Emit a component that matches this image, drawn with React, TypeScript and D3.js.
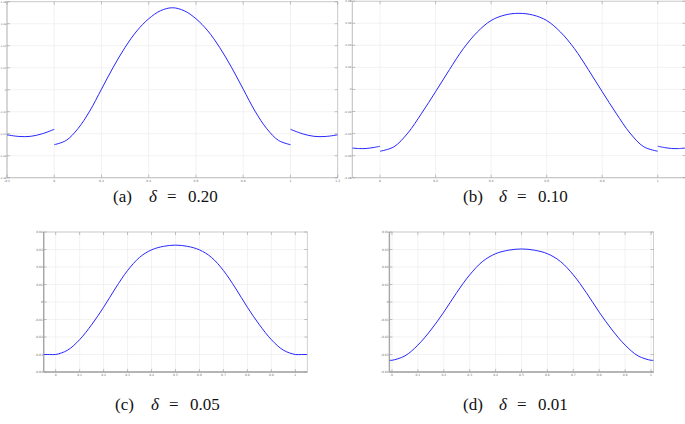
import React from "react";
import * as d3 from "d3";

// ---------- data ----------
const MAIN_X = [0, 0.05, 0.1, 0.15, 0.2, 0.25, 0.3, 0.35, 0.4, 0.45, 0.5, 0.55, 0.6, 0.65, 0.7, 0.75, 0.8, 0.85, 0.9, 0.95, 1];

// (a) delta = 0.20
const A_MAIN_Y = [-0.05, -0.0462, -0.0355, -0.0195, 0.0005, 0.0205, 0.0385, 0.0535, 0.0645, 0.0718, 0.0745, 0.0718, 0.0645, 0.0535, 0.0385, 0.0205, 0.0005, -0.0195, -0.0355, -0.0462, -0.05];
const A_LEFT_X = [-0.2, -0.15, -0.1, -0.05, 0];
const A_LEFT_Y = [-0.041, -0.0425, -0.0424, -0.04, -0.036];
const A_RIGHT_X = [1, 1.05, 1.1, 1.15, 1.2];
const A_RIGHT_Y = [-0.036, -0.04, -0.0424, -0.0425, -0.041];

// (b) delta = 0.10
const B_MAIN_Y = [-0.056, -0.052, -0.0395, -0.0215, -0.002, 0.018, 0.037, 0.052, 0.0625, 0.0675, 0.069, 0.0675, 0.0625, 0.052, 0.037, 0.018, -0.002, -0.0215, -0.0395, -0.052, -0.056];
const B_LEFT_X = [-0.1, -0.075, -0.05, -0.025, 0];
const B_LEFT_Y = [-0.0531, -0.0536, -0.0535, -0.0527, -0.0515];
const B_RIGHT_X = [1, 1.025, 1.05, 1.075, 1.1];
const B_RIGHT_Y = [-0.0515, -0.0527, -0.0535, -0.0536, -0.0531];

// (c) delta = 0.05
const C_X = [-0.05, -0.025, ...MAIN_X, 1.025, 1.05];
const C_Y = [-0.03, -0.03, -0.03, -0.0275, -0.0215, -0.013, -0.003, 0.008, 0.018, 0.0255, 0.0298, 0.0318, 0.0325, 0.0318, 0.0298, 0.0255, 0.018, 0.008, -0.003, -0.013, -0.0215, -0.0275, -0.03, -0.03, -0.03];

// (d) delta = 0.01
const D_X = [-0.01, ...MAIN_X, 1.01];
const D_Y = [-0.0333, -0.0333, -0.0308, -0.0246, -0.016, -0.0058, 0.0054, 0.0155, 0.0232, 0.0276, 0.0296, 0.0303, 0.0296, 0.0276, 0.0232, 0.0155, 0.0054, -0.0058, -0.016, -0.0246, -0.0308, -0.0333, -0.0333];

// tick labels
const X_TICKS_A = [-0.2, 0, 0.2, 0.4, 0.6, 0.8, 1, 1.2];
const X_TICKS_B = [0, 0.2, 0.4, 0.6, 0.8, 1];
const X_TICKS_CD = [0, 0.1, 0.2, 0.3, 0.4, 0.5, 0.6, 0.7, 0.8, 0.9, 1];
const Y_TICKS_AB = [-0.08, -0.06, -0.04, -0.02, 0, 0.02, 0.04, 0.06, 0.08];
const Y_TICKS_CD = [-0.04, -0.03, -0.02, -0.01, 0, 0.01, 0.02, 0.03, 0.04];

const CAPTIONS = ["(a)", "(b)", "(c)", "(d)"];
const DELTAS = ["0.20", "0.10", "0.05", "0.01"];

const zip = (xs: number[], ys: number[]) => xs.map((x, i) => [x, ys[i]] as [number, number]);

const fmt = (v: number) => String(+v.toFixed(2));

type PanelProps = {
  left: number; right: number; top: number; bottom: number;
  xDomain: [number, number]; yDomain: [number, number];
  xTicks: number[]; yTicks: number[];
  segments: [number, number][][];
  darkAxes?: boolean;
  yLabelSize?: number;
  id: string;
};

function Panel(p: PanelProps) {
  const x = d3.scaleLinear().domain(p.xDomain).range([p.left, p.right]);
  const y = d3.scaleLinear().domain(p.yDomain).range([p.bottom, p.top]);
  const line = d3.line<[number, number]>().x(d => x(d[0])).y(d => y(d[1])).curve(d3.curveCatmullRom.alpha(0.5));
  const gridC = "#ececec";
  const boxC = "#c4c4c4";
  const axC = p.darkAxes ? "#a6a6a6" : "#c4c4c4";
  const lblC = "#6a6a6a";
  const yls = p.yLabelSize ?? 3;
  return (
    <g>
      <defs>
        <clipPath id={p.id}>
          <rect x={p.left} y={p.top - 1} width={p.right - p.left} height={p.bottom - p.top + 2} />
        </clipPath>
      </defs>
      {p.xTicks.map((t, i) => (
        <line key={"gx" + i} x1={x(t)} x2={x(t)} y1={p.top} y2={p.bottom} stroke={gridC} strokeWidth={0.7} />
      ))}
      {p.yTicks.map((t, i) => (
        <line key={"gy" + i} x1={p.left} x2={p.right} y1={y(t)} y2={y(t)} stroke={gridC} strokeWidth={0.7} />
      ))}
      <rect x={p.left} y={p.top} width={p.right - p.left} height={p.bottom - p.top} fill="none" stroke={boxC} strokeWidth={0.8} />
      <line x1={p.left} x2={p.left} y1={p.top} y2={p.bottom} stroke={axC} strokeWidth={p.darkAxes ? 1.4 : 0.8} />
      <line x1={p.left} x2={p.right} y1={p.bottom} y2={p.bottom} stroke={axC} strokeWidth={p.darkAxes ? 1.4 : 0.8} />
      {p.xTicks.map((t, i) => (
        <g key={"tx" + i}>
          <line x1={x(t)} x2={x(t)} y1={p.bottom} y2={p.bottom - 3} stroke="#9a9a9a" strokeWidth={0.6} />
          <line x1={x(t)} x2={x(t)} y1={p.top} y2={p.top + 3} stroke="#9a9a9a" strokeWidth={0.6} />
          <text x={x(t)} y={p.bottom + 4.3} fontSize={3} fill={lblC} textAnchor="middle" fontFamily="DejaVu Sans">{fmt(t)}</text>
        </g>
      ))}
      {p.yTicks.map((t, i) => (
        <g key={"ty" + i}>
          <line x1={p.left} x2={p.left + 3} y1={y(t)} y2={y(t)} stroke="#9a9a9a" strokeWidth={0.6} />
          <line x1={p.right} x2={p.right - 3} y1={y(t)} y2={y(t)} stroke="#9a9a9a" strokeWidth={0.6} />
          <text x={p.left - 0.8} y={y(t) + 1} fontSize={yls} fill={lblC} textAnchor="end" fontFamily="DejaVu Sans">{fmt(t)}</text>
        </g>
      ))}
      <g clipPath={`url(#${p.id})`}>
        {p.segments.map((s, i) => (
          <path key={"s" + i} d={line(s) || ""} fill="none" stroke="#1a1aff" strokeWidth={0.95} />
        ))}
      </g>
    </g>
  );
}

const SERIF = "'Liberation Serif', 'DejaVu Serif', 'Times New Roman', serif";

function Caption({ x, y, idx }: { x: number; y: number; idx: number }) {
  return (
    <g style={{ fontFamily: SERIF, fontSize: "17px" }} fill="#111">
      <text x={x} y={y}>{CAPTIONS[idx]}</text>
      <text x={x + 36} y={y} fontStyle="italic">δ</text>
      <text x={x + 54} y={y}>=</text>
      <text x={x + 75} y={y}>{DELTAS[idx]}</text>
    </g>
  );
}

export default function App() {
  return (
    <svg width={685} height={424} style={{ position: "absolute", left: 0, top: 0, background: "#fff" }}>
      <Panel id="ca" left={7} right={337.7} top={1.7} bottom={177.7} xDomain={[-0.2, 1.2]} yDomain={[-0.08, 0.08]}
        xTicks={X_TICKS_A} yTicks={Y_TICKS_AB} yLabelSize={2.4}
        segments={[zip(A_LEFT_X, A_LEFT_Y), zip(MAIN_X, A_MAIN_Y), zip(A_RIGHT_X, A_RIGHT_Y)]} />
      <Panel id="cb" left={352.3} right={685.5} top={1.2} bottom={177.7} xDomain={[-0.1, 1.1]} yDomain={[-0.08, 0.08]}
        xTicks={X_TICKS_B} yTicks={Y_TICKS_AB} yLabelSize={2.8}
        segments={[zip(B_LEFT_X, B_LEFT_Y), zip(MAIN_X, B_MAIN_Y), zip(B_RIGHT_X, B_RIGHT_Y)]} />
      <Panel id="cc" left={43.7} right={307.3} top={232} bottom={372} xDomain={[-0.05, 1.05]} yDomain={[-0.04, 0.04]}
        xTicks={X_TICKS_CD} yTicks={Y_TICKS_CD} darkAxes
        segments={[zip(C_X, C_Y)]} />
      <Panel id="cd" left={389.4} right={653.6} top={232} bottom={372} xDomain={[-0.01, 1.01]} yDomain={[-0.04, 0.04]}
        xTicks={X_TICKS_CD} yTicks={Y_TICKS_CD} darkAxes
        segments={[zip(D_X, D_Y)]} />
      <Caption x={113} y={202} idx={0} />
      <Caption x={463} y={202} idx={1} />
      <Caption x={115} y={410} idx={2} />
      <Caption x={463} y={410} idx={3} />
    </svg>
  );
}
